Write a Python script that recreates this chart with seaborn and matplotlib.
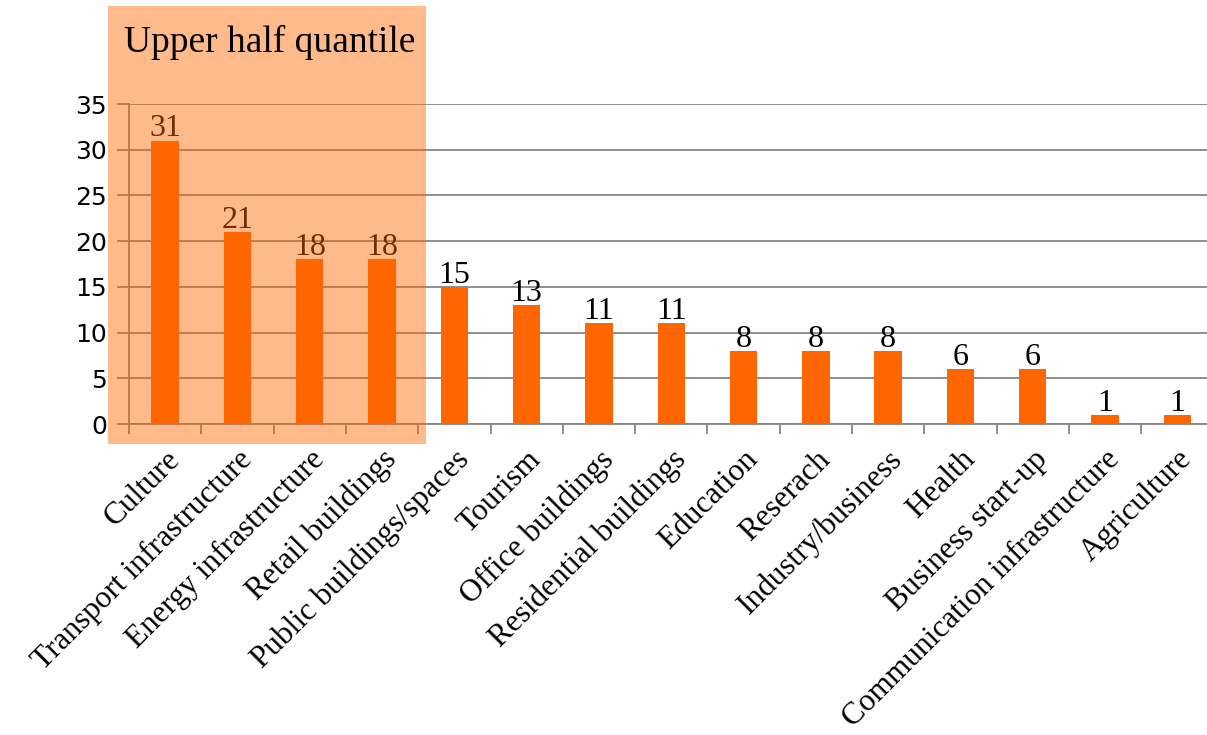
import matplotlib
matplotlib.use("Agg")
import matplotlib.pyplot as plt
import seaborn as sns
import pandas as pd
from matplotlib.patches import Rectangle
from matplotlib.ticker import FixedLocator

categories = ["Culture", "Transport infrastructure", "Energy infrastructure", "Retail buildings",
              "Public buildings/spaces", "Tourism", "Office buildings", "Residential buildings",
              "Education", "Reserach", "Industry/business", "Health", "Business start-up",
              "Communication infrastructure", "Agriculture"]
values = [31, 21, 18, 18, 15, 13, 11, 11, 8, 8, 8, 6, 6, 1, 1]
y_ticks = [0, 5, 10, 15, 20, 25, 30, 35]
highlight_label = "Upper half quantile"

df = pd.DataFrame({"category": categories, "value": values})

sns.set_style("white")
plt.rcParams['font.family'] = ['DejaVu Sans']
plt.rcParams['text.color'] = 'black'
plt.rcParams['xtick.color'] = 'black'
plt.rcParams['ytick.color'] = 'black'

W, H = 1207, 735
fig = plt.figure(figsize=(W / 100, H / 100), dpi=100)
ax = fig.add_axes([129 / W, (H - 424) / H, (1213.5 - 129) / W, (424 - 104) / H])

sns.barplot(data=df, x="category", y="value", color="#FF6600", saturation=1,
            width=0.38, ax=ax, zorder=3, linewidth=0)
ax.set_xlim(-0.5, len(categories) - 0.5)
ax.set_ylim(0, 35)
ax.set_yticks(y_ticks)
ax.set_xlabel("")
ax.set_ylabel("")

grid_c = "#868686"
ax.yaxis.grid(True, color=grid_c, linewidth=1.3, zorder=0)
ax.set_axisbelow(True)
for s in ["top", "right"]:
    ax.spines[s].set_visible(False)
for s in ["left", "bottom"]:
    ax.spines[s].set_color(grid_c)
    ax.spines[s].set_linewidth(1.3)

ax.tick_params(axis="y", left=True, length=9, width=1.3, color=grid_c, labelsize=18,
               labelcolor="black", pad=7)
ax.set_yticklabels([str(t) for t in y_ticks], fontfamily="DejaVu Sans", color="black")

ax.tick_params(axis="x", which="major", length=0, pad=15, labelcolor="black")
ax.xaxis.set_minor_locator(FixedLocator([i - 0.5 for i in range(len(categories) + 1)]))
ax.tick_params(axis="x", which="minor", bottom=True, length=7, width=1.3, color=grid_c)
ax.set_xticks(range(len(categories)))
ax.set_xticklabels(categories, rotation=45, ha="right", rotation_mode="anchor",
                   fontfamily="Liberation Serif", fontsize=22.5, color="black")

for c in ax.containers:
    ax.bar_label(c, padding=-2, fontfamily="Liberation Serif", fontsize=23, color="black", zorder=4)

# semi-transparent highlight over the upper-half categories
rect = Rectangle((108 / W, (H - 444) / H), (426 - 108) / W, (444 - 6) / H,
                 transform=fig.transFigure, facecolor="#FF6600", alpha=0.45,
                 edgecolor="none", zorder=10)
fig.patches.append(rect)
fig.text(270 / W, (H - 52) / H, highlight_label, ha="center", va="baseline",
         fontfamily="Liberation Serif", fontsize=27, color="black", zorder=11)

fig.savefig("out.png", dpi=100)
